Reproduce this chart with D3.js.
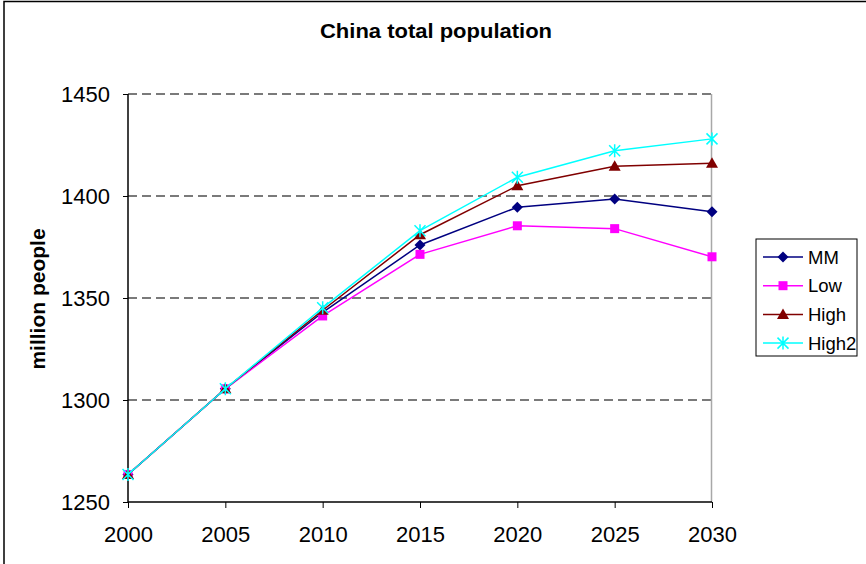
<!DOCTYPE html>
<html><head><meta charset="utf-8">
<script src="https://cdn.jsdelivr.net/npm/d3@7"></script>
<style>body{margin:0;background:#fff;}svg{display:block;font-family:"Liberation Sans",Arial,sans-serif;}</style>
</head><body>
<svg id="chart" width="866" height="564"></svg>
<script>
const years = [2000, 2005, 2010, 2015, 2020, 2025, 2030];
const mm    = [1263.5, 1305.5, 1343, 1376, 1394.5, 1398.5, 1392.3];
const low   = [1263.5, 1305.5, 1341.2, 1371.4, 1385.4, 1384, 1370.2];
const high  = [1263.5, 1305.5, 1344, 1381, 1405, 1414.6, 1416];
const high2 = [1263.5, 1305.5, 1345.2, 1383, 1409.2, 1422.2, 1428];
const yTicks = [1250, 1300, 1350, 1400, 1450];
const seriesNames = ["MM", "Low", "High", "High2"];
const seriesColors = ["#000080", "#FF00FF", "#800000", "#00FFFF"];
const seriesShapes = ["diamond", "square", "triangle", "asterisk"];
const seriesValues = [mm, low, high, high2];

const svg = d3.select("#chart");
svg.append("rect").attr("x", 4).attr("y", 1.5).attr("width", 880).attr("height", 580)
  .attr("fill", "#fff").attr("stroke", "#000").attr("stroke-width", 1.5);

const x = d3.scaleLinear().domain([2000, 2030]).range([128, 712]);
const y = d3.scaleLinear().domain([1250, 1450]).range([502, 94]);

// gridlines
svg.append("g").selectAll("line").data(yTicks.filter(d => d > 1250)).join("line")
  .attr("x1", 128).attr("x2", 711).attr("y1", d => y(d)).attr("y2", d => y(d))
  .attr("stroke", "#7a7a7a").attr("stroke-width", 1.8).attr("stroke-dasharray", "9,5");
// right border
svg.append("line").attr("x1", 711.5).attr("x2", 711.5).attr("y1", 94).attr("y2", 502)
  .attr("stroke", "#a8a8a8").attr("stroke-width", 1.5);

const yAxis = d3.axisLeft(y).tickValues(yTicks).tickSize(5).tickPadding(13).tickFormat(d3.format("d"));
const gy = svg.append("g").attr("transform", "translate(128,0)").call(yAxis);
const xAxis = d3.axisBottom(x).tickValues(years).tickSize(6).tickPadding(18).tickFormat(d3.format("d"));
const gx = svg.append("g").attr("transform", "translate(0,502)").call(xAxis);
[gx, gy].forEach(g => {
  g.select(".domain").attr("stroke", "#000").attr("stroke-width", 1.5);
  g.selectAll(".tick line").attr("stroke", "#000").attr("stroke-width", 1);
  g.selectAll("text").attr("font-size", 22).attr("fill", "#000").attr("font-family", "Liberation Sans, Arial, sans-serif");
});
gy.select(".domain").attr("d", "M0,94V502");
gx.select(".domain").attr("d", "M128,0H712");

function marker(g, shape, color, cx, cy) {
  if (shape === "diamond") {
    g.append("path").attr("d", `M${cx},${cy-5.5}L${cx+5.5},${cy}L${cx},${cy+5.5}L${cx-5.5},${cy}Z`).attr("fill", color);
  } else if (shape === "square") {
    g.append("rect").attr("x", cx-4.5).attr("y", cy-4.5).attr("width", 9).attr("height", 9).attr("fill", color);
  } else if (shape === "triangle") {
    g.append("path").attr("d", `M${cx},${cy-6}L${cx+6},${cy+4.5}L${cx-6},${cy+4.5}Z`).attr("fill", color);
  } else {
    const r = 5.5;
    g.append("path").attr("d", `M${cx-r},${cy-r}L${cx+r},${cy+r}M${cx-r},${cy+r}L${cx+r},${cy-r}M${cx},${cy-r-1}L${cx},${cy+r+1}`)
      .attr("stroke", color).attr("stroke-width", 1.5).attr("fill", "none");
  }
}

const line = d3.line().x((d, i) => x(years[i])).y(d => y(d));
seriesValues.forEach((vals, si) => {
  const g = svg.append("g");
  g.append("path").datum(vals).attr("d", line).attr("fill", "none")
    .attr("stroke", seriesColors[si]).attr("stroke-width", 1.5);
  vals.forEach((v, i) => marker(g, seriesShapes[si], seriesColors[si], x(years[i]), y(v)));
});

// title
svg.append("text").attr("x", 436).attr("y", 38).attr("text-anchor", "middle")
  .attr("font-size", 21).attr("font-weight", "bold").attr("textLength", 232).attr("lengthAdjust", "spacingAndGlyphs")
  .text("China total population");
// y label
svg.append("text").attr("transform", "translate(45,299) rotate(-90)").attr("text-anchor", "middle")
  .attr("font-size", 21).attr("font-weight", "bold").text("million people");

// legend
const lg = svg.append("g");
lg.append("rect").attr("x", 756).attr("y", 239).attr("width", 101).attr("height", 117)
  .attr("fill", "#fff").attr("stroke", "#000").attr("stroke-width", 1);
seriesNames.forEach((n, i) => {
  const ly = 257 + i * 28.7;
  lg.append("line").attr("x1", 763).attr("x2", 803).attr("y1", ly).attr("y2", ly)
    .attr("stroke", seriesColors[i]).attr("stroke-width", 1.5);
  marker(lg, seriesShapes[i], seriesColors[i], 783, ly);
  lg.append("text").attr("x", 808).attr("y", ly + 6.5).attr("font-size", 18.5).text(n);
});
</script>
</body></html>
